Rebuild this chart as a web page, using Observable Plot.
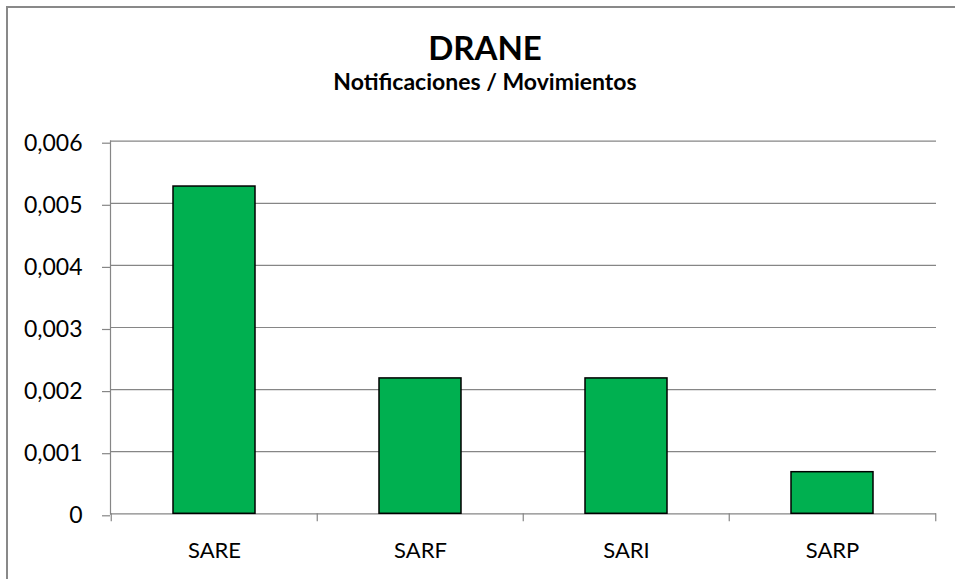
<!DOCTYPE html>
<html>
<head>
<meta charset="utf-8">
<script src="https://cdn.jsdelivr.net/npm/d3@7"></script>
<script src="https://cdn.jsdelivr.net/npm/@observablehq/plot@0.6"></script>
<style>
html, body { margin: 0; padding: 0; background: #fff; }
#wrap { position: relative; width: 955px; height: 579px; overflow: hidden; font-family: Lato, "Open Sans", sans-serif; color: #000; }
#head { position: relative; height: 110px; }
#title { position: absolute; left: 7px; width: 956px; text-align: center; top: 28px; font-weight: bold; font-size: 33px; line-height: 1.2; white-space: nowrap; }
#subtitle { position: absolute; left: 7px; width: 956px; text-align: center; top: 68px; font-weight: bold; font-size: 23px; line-height: 1.2; white-space: nowrap; }
#border { position: absolute; left: 6px; top: 6px; width: 1200px; height: 1200px; border: 2px solid #898989; box-sizing: border-box; z-index: 2; pointer-events: none; }
#chart svg { display: block; }
</style>
</head>
<body>
<div id="wrap">
  <div id="head">
    <div id="title">DRANE</div>
    <div id="subtitle">Notificaciones / Movimientos</div>
  </div>
  <div id="chart"></div>
  <div id="border"></div>
</div>
<script>
const categories = ["SARE", "SARF", "SARI", "SARP"];
const values = [0.00527, 0.00218, 0.00218, 0.00067];
const yTicks = [0, 0.001, 0.002, 0.003, 0.004, 0.005, 0.006];

const data = categories.map((c, i) => ({cat: c, value: values[i]}));
const fmt = d => d === 0 ? "0" : d.toFixed(3).replace(".", ",");

const W = 955, H = 469, mL = 110, mR = 19, mT = 30.7, mB = 65.7;
const step = (W - mL - mR) / categories.length;
const gray = "#868686";

const chart = Plot.plot({
  width: W,
  height: H,
  marginLeft: mL,
  marginRight: mR,
  marginTop: mT,
  marginBottom: mB,
  style: {fontFamily: "Lato, 'Open Sans', sans-serif", fontSize: "22px", background: "transparent", color: "#000"},
  x: {domain: categories, paddingInner: 0.6, paddingOuter: 0.3, axis: null},
  y: {domain: [0, 0.006], axis: null},
  marks: [
    Plot.ruleY(yTicks, {stroke: gray, strokeWidth: 1.2}),
    Plot.frame({anchor: "left", stroke: gray, strokeWidth: 1.2}),
    Plot.barY(data, {x: "cat", y: "value", fill: "#00B050", stroke: "#000", strokeWidth: 1.5}),
    Plot.axisY({ticks: yTicks, tickSize: 8, tickPadding: 20, tickFormat: fmt, label: null, stroke: gray, fill: "#000", strokeWidth: 1.2, dy: 2, fontSize: 23}),
    Plot.axisX({ticks: categories, tickSize: 8, tickFormat: () => "", label: null, stroke: gray, strokeWidth: 1.2, dx: -step / 2}),
    Plot.axisX({ticks: categories.slice(-1), tickSize: 8, tickFormat: () => "", label: null, stroke: gray, strokeWidth: 1.2, dx: step / 2}),
    Plot.axisX({ticks: categories, tickSize: 0, tickPadding: 29, label: null, fill: "#000", fontSize: 22})
  ]
});
document.getElementById("chart").appendChild(chart);
</script>
</body>
</html>
